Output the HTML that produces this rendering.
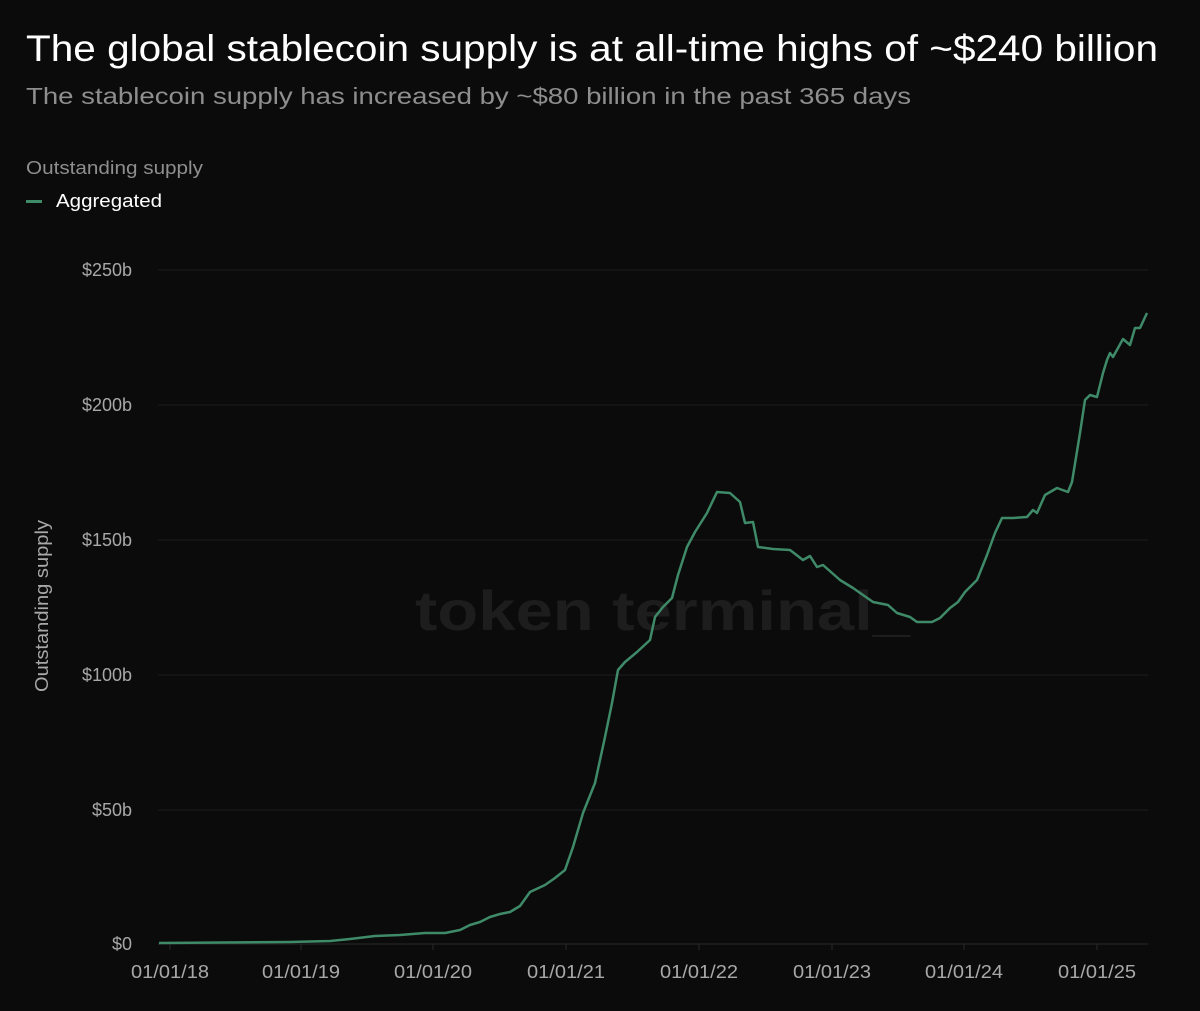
<!DOCTYPE html>
<html><head><meta charset="utf-8"><style>
html,body{margin:0;padding:0;background:#0b0b0b;}
body{width:1200px;height:1006px;overflow:hidden;font-family:"Liberation Sans",sans-serif;}
</style></head><body>
<svg width="1200" height="1006" xmlns="http://www.w3.org/2000/svg" font-family="Liberation Sans, sans-serif">
<rect width="1200" height="1006" fill="#0b0b0b"/>
<text x="26" y="61" fill="#ffffff" font-size="37" textLength="1132" lengthAdjust="spacingAndGlyphs">The global stablecoin supply is at all-time highs of ~$240 billion</text>
<text x="26" y="104" fill="#8e8e8e" font-size="23" textLength="885" lengthAdjust="spacingAndGlyphs">The stablecoin supply has increased by ~$80 billion in the past 365 days</text>
<text x="26" y="174" fill="#8e8e8e" font-size="18" textLength="177" lengthAdjust="spacingAndGlyphs">Outstanding supply</text>
<rect x="26" y="200" width="16" height="3" fill="#3f8a68"/>
<text x="56" y="207" fill="#ffffff" font-size="18" textLength="106" lengthAdjust="spacingAndGlyphs">Aggregated</text>
<text x="415" y="630" fill="#1d1d1d" font-size="56" font-weight="bold" textLength="495" lengthAdjust="spacingAndGlyphs">token terminal_</text>
<g stroke="#1c1c1c" stroke-width="1">
<line x1="158" y1="270" x2="1148" y2="270"/>
<line x1="158" y1="405" x2="1148" y2="405"/>
<line x1="158" y1="540" x2="1148" y2="540"/>
<line x1="158" y1="675" x2="1148" y2="675"/>
<line x1="158" y1="810" x2="1148" y2="810"/>
<line x1="158" y1="944" x2="1148" y2="944" stroke="#2a2a2a"/>
</g>
<g stroke="#2a2a2a"><line x1="170" y1="944" x2="170" y2="950"/><line x1="301" y1="944" x2="301" y2="950"/><line x1="433" y1="944" x2="433" y2="950"/><line x1="566" y1="944" x2="566" y2="950"/><line x1="699" y1="944" x2="699" y2="950"/><line x1="832" y1="944" x2="832" y2="950"/><line x1="964" y1="944" x2="964" y2="950"/><line x1="1097" y1="944" x2="1097" y2="950"/></g>
<g fill="#a8a8a8" font-size="18" text-anchor="end">
<text x="132" y="276">$250b</text><text x="132" y="411">$200b</text><text x="132" y="546">$150b</text><text x="132" y="681">$100b</text><text x="132" y="816">$50b</text><text x="132" y="950">$0</text>
</g>
<g fill="#a8a8a8" font-size="18" text-anchor="middle">
<text x="170" y="978" textLength="78" lengthAdjust="spacingAndGlyphs">01/01/18</text><text x="301" y="978" textLength="78" lengthAdjust="spacingAndGlyphs">01/01/19</text><text x="433" y="978" textLength="78" lengthAdjust="spacingAndGlyphs">01/01/20</text><text x="566" y="978" textLength="78" lengthAdjust="spacingAndGlyphs">01/01/21</text><text x="699" y="978" textLength="78" lengthAdjust="spacingAndGlyphs">01/01/22</text><text x="832" y="978" textLength="78" lengthAdjust="spacingAndGlyphs">01/01/23</text><text x="964" y="978" textLength="78" lengthAdjust="spacingAndGlyphs">01/01/24</text><text x="1097" y="978" textLength="78" lengthAdjust="spacingAndGlyphs">01/01/25</text>
</g>
<text transform="translate(48,606) rotate(-90)" fill="#a8a8a8" font-size="18" text-anchor="middle" textLength="172" lengthAdjust="spacingAndGlyphs">Outstanding supply</text>
<polyline fill="none" stroke="#3f8a68" stroke-width="2.5" stroke-linejoin="round" points="159,943 290,942 330,941 350,939 375,936 400,935 425,933 445,933 460,930 470,925 480,922 490,917 500,914 510,912 520,906 530,892 545,885 555,878 565,870 573,847 583,813 595,783 605,737 612,703 618,670 625,662 637,652 650,640 655,617 663,607 672,598 678,575 687,547 695,532 707,513 717,492 730,493 740,502 745,523 753,522 758,547 773,549 790,550 803,560 810,556 817,567 823,565 840,580 853,588 873,602 888,605 897,613 910,617 917,622 932,622 940,618 950,608 958,602 965,592 977,580 987,555 995,533 1002,518 1013,518 1027,517 1033,510 1037,513 1045,495 1057,488 1068,492 1072,482 1080,433 1085,400 1090,395 1097,397 1103,373 1107,360 1110,353 1113,357 1123,339 1130,345 1135,328 1140,328 1147,313"/>
</svg>
</body></html>
